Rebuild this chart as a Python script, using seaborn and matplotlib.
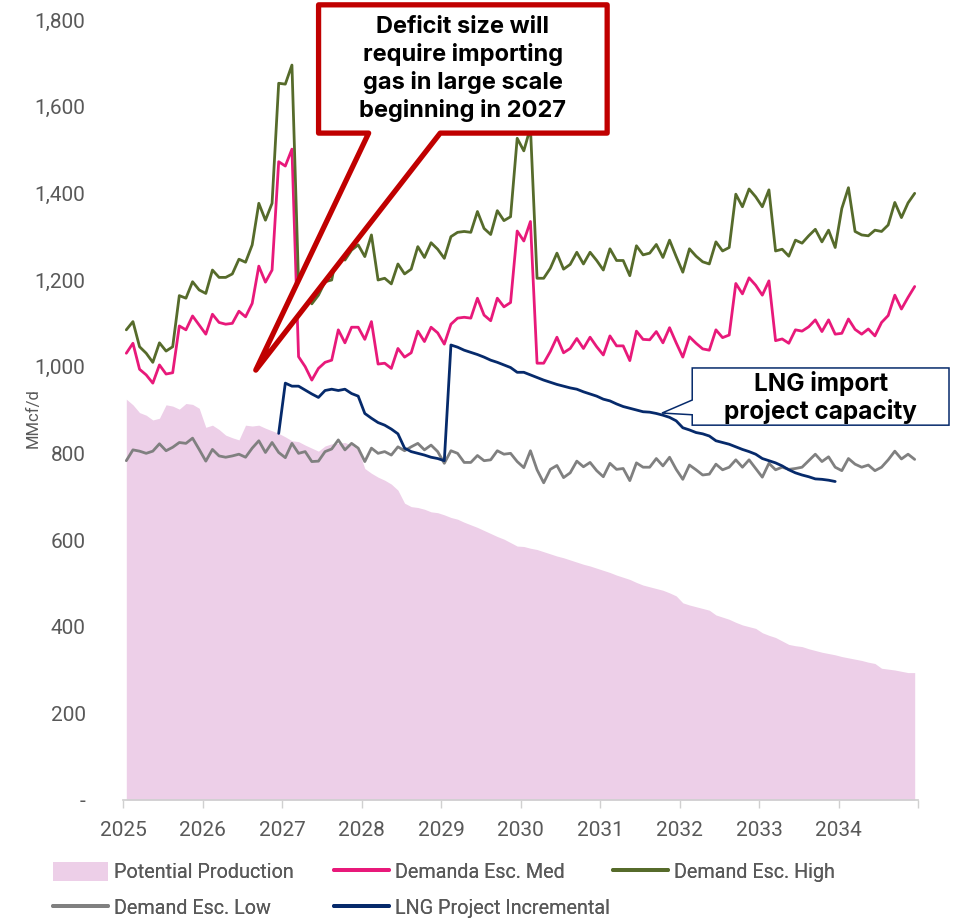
import numpy as np
import pandas as pd
import seaborn as sns
import matplotlib.pyplot as plt
from matplotlib.patches import Polygon, Patch
from matplotlib.lines import Line2D
from matplotlib.ticker import FuncFormatter

# monthly values, Jan 2025 .. Dec 2034 (MMcf/d)
production = [925, 912, 894, 888, 877, 881, 912, 909, 902, 915, 913, 904,
              860, 865, 855, 842, 836, 831, 865, 863, 865, 858, 852, 846,
              838, 829, 827, 819, 812, 805, 817, 822, 823, 825, 819, 808,
              765, 754, 745, 738, 729, 715, 685, 677, 675, 671, 665, 663,
              658, 652, 648, 641, 635, 629, 622, 615, 608, 602, 594, 586,
              585, 581, 578, 573, 568, 563, 559, 554, 549, 544, 540, 535,
              530, 525, 519, 514, 509, 502, 496, 492, 488, 484, 478, 471,
              455, 450, 446, 442, 438, 427, 422, 417, 410, 404, 400, 396,
              386, 380, 375, 367, 359, 356, 354, 349, 345, 341, 338, 335,
              331, 328, 325, 322, 318, 315, 304, 302, 300, 297, 294, 294]

demand_med = [1031, 1054, 994, 981, 962, 1004, 983, 986, 1094, 1085, 1117, 1096,
              1075, 1121, 1102, 1098, 1100, 1128, 1115, 1146, 1232, 1195, 1223, 1473,
              1463, 1502, 1023, 1000, 969, 996, 1010, 1015, 1085, 1055, 1091, 1091,
              1063, 1104, 1006, 1008, 996, 1042, 1022, 1032, 1082, 1058, 1091, 1078,
              1052, 1098, 1112, 1114, 1112, 1158, 1119, 1106, 1158, 1138, 1148, 1313,
              1290, 1335, 1008, 1008, 1035, 1068, 1032, 1042, 1065, 1042, 1068, 1046,
              1027, 1071, 1048, 1048, 1014, 1082, 1063, 1062, 1081, 1055, 1090, 1055,
              1022, 1069, 1054, 1041, 1038, 1085, 1067, 1073, 1192, 1168, 1205, 1188,
              1165, 1198, 1060, 1064, 1054, 1085, 1082, 1092, 1108, 1081, 1108, 1075,
              1077, 1110, 1086, 1075, 1087, 1071, 1102, 1118, 1165, 1133, 1160, 1185]

demand_high = [1085, 1104, 1046, 1031, 1010, 1055, 1036, 1046, 1164, 1158, 1196, 1177,
               1169, 1223, 1206, 1206, 1214, 1248, 1241, 1281, 1377, 1338, 1377, 1654,
               1652, 1696, 1192, 1177, 1145, 1165, 1196, 1200, 1277, 1246, 1269, 1281,
               1254, 1304, 1200, 1204, 1191, 1237, 1214, 1225, 1277, 1252, 1286, 1271,
               1250, 1300, 1310, 1312, 1310, 1358, 1319, 1305, 1360, 1337, 1346, 1527,
               1498, 1552, 1204, 1204, 1227, 1262, 1225, 1236, 1264, 1237, 1264, 1245,
               1223, 1272, 1245, 1245, 1210, 1279, 1258, 1262, 1282, 1252, 1292, 1254,
               1218, 1272, 1255, 1242, 1237, 1288, 1267, 1275, 1398, 1369, 1410, 1392,
               1369, 1408, 1267, 1271, 1255, 1292, 1285, 1302, 1317, 1288, 1315, 1275,
               1365, 1413, 1312, 1304, 1302, 1315, 1312, 1327, 1379, 1344, 1378, 1400]

demand_low = [783, 808, 805, 800, 805, 822, 806, 814, 825, 823, 835, 809,
              782, 809, 794, 791, 794, 798, 791, 812, 829, 802, 825, 802,
              790, 823, 800, 804, 781, 782, 804, 810, 831, 808, 823, 812,
              781, 812, 800, 804, 796, 815, 806, 815, 823, 808, 819, 804,
              777, 806, 800, 779, 779, 795, 783, 785, 806, 798, 800, 781,
              767, 806, 762, 732, 763, 772, 744, 755, 782, 769, 779, 760,
              746, 777, 763, 765, 737, 778, 768, 768, 788, 771, 791, 763,
              740, 773, 762, 750, 752, 775, 762, 768, 785, 768, 785, 765,
              745, 777, 762, 768, 763, 765, 768, 783, 798, 781, 792, 768,
              760, 788, 775, 768, 773, 760, 768, 785, 805, 787, 798, 786]

nan = np.nan
lng_incremental = [nan] * 23 + [846,
                   962, 955, 955, 946, 937, 929, 945, 948, 945, 948, 938, 932,
                   892, 881, 871, 865, 856, 845, 812, 804, 800, 796, 791, 788,
                   783, 1050, 1045, 1038, 1033, 1028, 1022, 1015, 1010, 1004, 998, 987,
                   987, 981, 975, 969, 964, 959, 955, 951, 948, 942, 937, 932,
                   925, 921, 914, 908, 904, 900, 896, 895, 892, 888, 883, 875,
                   859, 854, 848, 845, 840, 829, 825, 821, 815, 809, 804, 798,
                   788, 783, 778, 771, 762, 755, 750, 746, 741, 740, 738, 735] + [nan] * 12

year_ticks = list(range(2025, 2036))
year_labels = [str(y) for y in range(2025, 2035)] + ['']

# mid-month positions as decimal years
dates = 2025 + (np.arange(120) + 0.5) / 12

df = pd.DataFrame({'date': dates, 'prod': production, 'med': demand_med,
                   'high': demand_high, 'low': demand_low, 'lng': lng_incremental})

C_PROD = '#EDCFE8'
C_MED = '#E8197A'
C_HIGH = '#566B2B'
C_LOW = '#808080'
C_LNG = '#062A6B'
C_RED = '#C00000'
TXT = '#595959'

sns.set_theme(style='white')
plt.rcParams['font.family'] = ['Roboto', 'DejaVu Sans']

fig = plt.figure(figsize=(9.59, 9.19), dpi=100)
ax = fig.add_axes([123 / 959, 1 - 800 / 919, 795 / 959, 780 / 919])

ax.fill_between(df['date'], 0, df['prod'], color=C_PROD, linewidth=0, zorder=1)
lw = 2.0
sns.lineplot(data=df, x='date', y='low', ax=ax, color=C_LOW, linewidth=lw, zorder=3)
sns.lineplot(data=df, x='date', y='lng', ax=ax, color=C_LNG, linewidth=lw, zorder=3)
sns.lineplot(data=df, x='date', y='med', ax=ax, color=C_MED, linewidth=lw, zorder=3)
sns.lineplot(data=df, x='date', y='high', ax=ax, color=C_HIGH, linewidth=lw, zorder=3)

ax.set_xlim(2025, 2035)
ax.set_ylim(0, 1800)
ax.set_yticks(range(0, 1801, 200))
ax.yaxis.set_major_formatter(FuncFormatter(lambda v, p: '-' if v == 0 else f'{v:,.0f}'))
ax.set_xticks(year_ticks)
ax.set_xticklabels(year_labels)
ax.tick_params(axis='y', length=0, labelsize=15, labelcolor=TXT, pad=27)
ax.tick_params(axis='x', length=6, width=1, color='#D0D0D0', direction='out',
               labelsize=15, labelcolor=TXT, pad=9, bottom=True)
for s in ['left', 'right', 'top']:
    ax.spines[s].set_visible(False)
ax.spines['bottom'].set_color('#D0D0D0')
ax.set_xlabel('')
ax.set_ylabel('MMcf/d', fontsize=12, color=TXT)
ax.yaxis.set_label_coords(-0.104, 0.49)
ax.grid(False)

# red wedge callout
L, R, T, B = 2027.46, 2031.09, 1835, 1539
red_shape = [(L, T), (R, T), (R, B), (2028.99, B), (2026.67, 992), (2028.09, B), (L, B)]
ax.add_patch(Polygon(red_shape, closed=True, facecolor='white', edgecolor=C_RED,
                     linewidth=3.8, joinstyle='round', clip_on=False, zorder=5))
ax.text((L + R) / 2, 1686, 'Deficit size will\nrequire importing\ngas in large scale\nbeginning in 2027',
        ha='center', va='center', fontsize=17, fontweight='bold', color='black',
        family=['Inter', 'DejaVu Sans'], linespacing=1.28, zorder=6)

# LNG callout
L2, R2, T2, B2 = 2032.16, 2035.39, 997, 865
lng_shape = [(L2, T2), (R2, T2), (R2, B2), (L2, B2), (L2, 889), (2031.78, 893), (L2, 923)]
ax.add_patch(Polygon(lng_shape, closed=True, facecolor='white', edgecolor=C_LNG,
                     linewidth=1.1, clip_on=False, zorder=5))
ax.text((L2 + R2) / 2, 930, 'LNG import\nproject capacity', ha='center', va='center',
        fontsize=17.5, fontweight='bold', color='black',
        family=['Inter', 'DejaVu Sans'], linespacing=1.15, zorder=6)

# legend: one single-column legend per column, as laid out in the source
legend_cols = [
    ([Patch(facecolor=C_PROD, edgecolor='none'), Line2D([], [], color=C_LOW, linewidth=2.8)],
     ['Potential Production', 'Demand Esc. Low'], 43),
    ([Line2D([], [], color=C_MED, linewidth=2.8), Line2D([], [], color=C_LNG, linewidth=2.8)],
     ['Demanda Esc. Med', 'LNG Project Incremental'], 324),
    ([Line2D([], [], color=C_HIGH, linewidth=2.8)], ['Demand Esc. High'], 603),
]
for hs, ls, xpx in legend_cols:
    leg = fig.legend(hs, ls, ncol=1, loc='upper left', bbox_to_anchor=(xpx / 959, 1 - 852 / 919),
                     frameon=False, fontsize=14.2, labelcolor=TXT, handlelength=2.8,
                     handleheight=1.1, handletextpad=0.3, labelspacing=0.8, borderpad=0)
    fig.add_artist(leg)

fig.savefig('out.png', dpi=100)
